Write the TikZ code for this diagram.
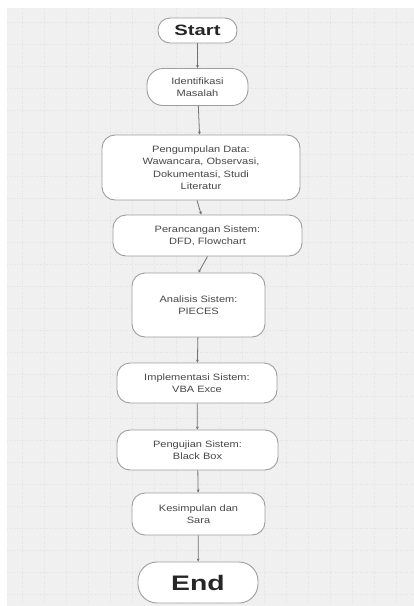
\documentclass[tikz,border=0pt]{standalone}
\usepackage{fontspec}
\setmainfont{Liberation Sans}
\newfontfamily\boxfont[FakeStretch=1.2]{Liberation Sans}
\newfontfamily\endfont[FakeStretch=1.35]{Liberation Sans}
\usetikzlibrary{arrows.meta}

\begin{document}
\begin{tikzpicture}[x=1pt,y=-1pt,
  box/.style={draw=edge,fill=white,rounded corners=13pt,line width=.9pt,
    align=center,text=label,font=\boxfont\fontsize{9.2}{12.5}\selectfont,
    inner sep=0pt},
  terminal/.style={box,text=black!85,font=\endfont\bfseries\fontsize{15}{15}\selectfont},
  flow/.style={draw=link,line width=.8pt,-{Stealth[length=3pt,width=3pt]}}]
  \colorlet{paper}{black!6}
  \colorlet{dots}{black!11}
  \colorlet{edge}{black!38}
  \colorlet{link}{black!55}
  \colorlet{label}{black!72}

  \useasboundingbox (0,0) rectangle (414,606);
  \fill [paper] (7,8) rectangle (414,606);
  \draw [dots,dotted,line width=.5pt,xstep=22pt,ystep=22pt] (7,8) grid (414,606);

  \node [terminal,minimum width=79pt,minimum height=25pt,rounded corners=12pt]
    (start) at (197.5,30.5) {Start};
  \node [box,minimum width=101pt,minimum height=37pt,rounded corners=16pt]
    (ident) at (197.5,87) {Identifikasi\\Masalah};
  \node [box,minimum width=198pt,minimum height=65pt]
    (data) at (201,167.5) {Pengumpulan Data:\\Wawancara, Observasi,\\Dokumentasi, Studi\\Literatur};
  \node [box,minimum width=189pt,minimum height=41pt]
    (rancang) at (207.5,235.5) {Perancangan Sistem:\\DFD, Flowchart};
  \node [box,minimum width=133pt,minimum height=64pt]
    (analisis) at (198.5,305) {Analisis Sistem:\\PIECES};
  \node [box,minimum width=160pt,minimum height=40pt]
    (impl) at (197,383) {Implementasi Sistem:\\VBA Exce};
  \node [box,minimum width=161pt,minimum height=40pt]
    (uji) at (197.5,450) {Pengujian Sistem:\\Black Box};
  \node [box,minimum width=133pt,minimum height=42pt]
    (simpul) at (198.5,514) {Kesimpulan dan\\Sara};
  \node [terminal,minimum width=120pt,minimum height=41pt,rounded corners=19pt,
    font=\endfont\bfseries\fontsize{21}{21}\selectfont]
    (end) at (198,582.5) {End};

  \draw [flow] (start) -- (ident);
  \draw [flow] (ident) -- (data);
  \draw [flow] (data.south) ++(-4,0) -- (rancang);
  \draw [flow] (rancang.south) -- (analisis.north);
  \draw [flow] (analisis) -- (impl);
  \draw [flow] (impl) -- (uji);
  \draw [flow] (uji) -- (simpul);
  \draw [flow] (simpul) -- (end);
\end{tikzpicture}
\end{document}
